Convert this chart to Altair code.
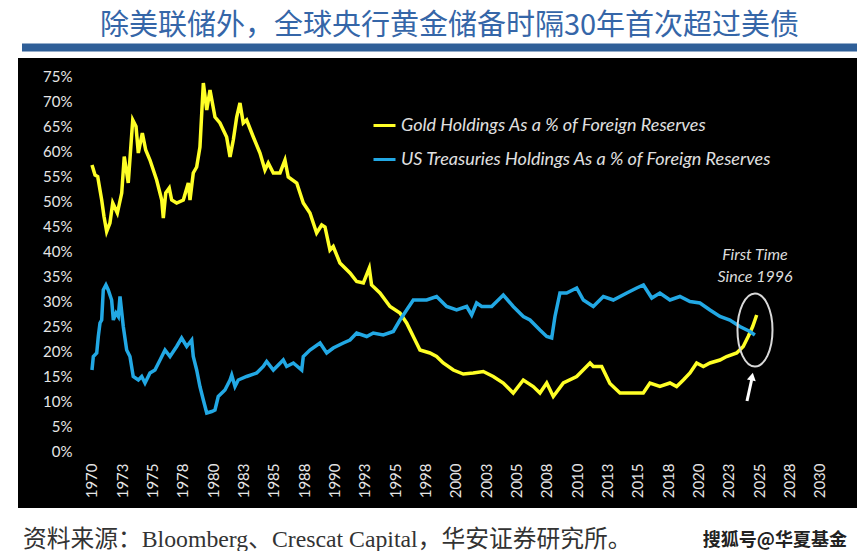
import altair as alt
import pandas as pd

# ---------------- data ----------------
gold_years = [1970.0, 1970.25, 1970.47, 1970.8, 1970.99, 1971.21, 1971.48, 1971.71, 1972.09, 1972.45,
              1972.66, 1972.99, 1973.36, 1973.63, 1973.82, 1974.15, 1974.43, 1974.78, 1975.33, 1975.75,
              1975.88, 1976.08, 1976.37, 1976.57, 1976.98, 1977.53, 1977.94, 1978.08, 1978.35, 1978.63,
              1978.9, 1979.18, 1979.46, 1979.73, 1980.14, 1980.55, 1981.1, 1981.38, 1981.65, 1981.93,
              1982.2, 1982.47, 1982.75, 1983.3, 1983.85, 1984.26, 1984.53, 1984.95, 1985.5, 1985.91,
              1986.18, 1986.88, 1987.42, 1987.97, 1988.52, 1988.94, 1989.21, 1989.62, 1989.89, 1990.44,
              1991.27, 1991.82, 1992.37, 1992.86, 1993.05, 1993.74, 1994.57, 1995.39, 1995.94, 1996.49,
              1997.04, 1997.86, 1998.41, 1998.96, 1999.79, 2000.61, 2001.43, 2002.26, 2003.08, 2003.91,
              2004.73, 2005.56, 2006.38, 2006.93, 2007.49, 2008.03, 2008.86, 2009.96, 2011.06, 2011.33,
              2012.02, 2012.7, 2013.53, 2014.63, 2015.45, 2016.0, 2016.82, 2017.65, 2018.2, 2018.75,
              2019.3, 2019.85, 2020.4, 2020.95, 2021.77, 2022.32, 2023.15, 2023.69, 2024.1, 2024.47,
              2024.8]
gold_values = [57.2, 55.2, 54.9, 50.2, 46.9, 43.9, 45.6, 49.6, 47.6, 51.6,
               58.9, 53.6, 66.2, 64.9, 59.6, 63.6, 60.2, 58.2, 54.2, 50.2,
               46.6, 51.6, 52.6, 50.2, 49.6, 50.2, 53.6, 50.2, 55.6, 56.8,
               60.8, 73.6, 68.2, 72.2, 66.8, 65.6, 62.8, 58.8, 62.2, 66.8,
               69.6, 65.6, 66.2, 62.8, 59.6, 56.2, 57.6, 55.6, 55.6, 58.2,
               54.8, 53.6, 49.6, 47.6, 43.6, 45.2, 44.8, 40.2, 40.9, 37.6,
               35.6, 33.9, 33.6, 36.6, 33.2, 31.6, 28.9, 27.6, 25.6, 22.9,
               20.2, 19.6, 18.9, 17.6, 16.2, 15.4, 15.6, 15.9, 14.9, 13.6,
               11.6, 14.2, 12.9, 11.6, 13.6, 10.9, 13.6, 14.9, 17.6, 16.9,
               16.9, 13.5, 11.6, 11.6, 11.6, 13.6, 12.9, 13.6, 12.9, 14.2,
               15.6, 17.6, 16.9, 17.6, 18.2, 18.9, 19.6, 20.9, 22.9, 24.9,
               27.2]

ust_years = [1970.0, 1970.11, 1970.39, 1970.52, 1970.66, 1970.8, 1970.93, 1971.15, 1971.34, 1971.62,
             1971.76, 1971.98, 1972.17, 1972.31, 1972.58, 1972.86, 1973.13, 1973.4, 1973.82, 1974.1,
             1974.37, 1974.78, 1975.19, 1975.61, 1976.02, 1976.43, 1976.98, 1977.39, 1977.81, 1978.22,
             1978.35, 1978.63, 1978.9, 1979.18, 1979.46, 1979.87, 1980.14, 1980.41, 1980.96, 1981.38,
             1981.52, 1981.79, 1982.06, 1982.75, 1983.58, 1984.12, 1984.4, 1984.95, 1985.77, 1986.05,
             1986.6, 1987.29, 1987.42, 1987.97, 1988.8, 1989.35, 1989.89, 1990.72, 1991.27, 1991.82,
             1992.65, 1993.19, 1994.01, 1994.84, 1995.39, 1995.94, 1996.49, 1997.59, 1998.41, 1999.24,
             2000.06, 2000.89, 2001.3, 2001.71, 2002.13, 2002.95, 2003.91, 2004.73, 2005.56, 2006.11,
             2006.93, 2007.49, 2007.9, 2008.17, 2008.58, 2009.13, 2009.96, 2010.51, 2011.33, 2012.16,
             2012.98, 2014.09, 2014.91, 2015.46, 2016.15, 2016.82, 2017.65, 2018.47, 2019.3, 2020.12,
             2020.95, 2021.77, 2022.59, 2023.41, 2024.24, 2024.65]
ust_values = [16.2, 18.9, 19.6, 22.9, 25.6, 26.2, 32.2, 33.2, 32.2, 30.2,
              26.2, 27.6, 26.9, 30.9, 24.9, 20.2, 18.9, 14.9, 14.2, 14.9,
              13.6, 15.6, 16.2, 18.2, 20.2, 18.9, 20.9, 22.6, 20.9, 22.2,
              18.9, 16.2, 12.9, 10.2, 7.6, 7.9, 8.2, 10.9, 12.2, 14.2,
              15.2, 12.9, 14.2, 14.9, 15.6, 16.9, 17.9, 16.2, 18.2, 16.9,
              17.6, 16.2, 18.9, 20.2, 21.6, 19.6, 20.6, 21.6, 22.2, 23.6,
              22.9, 23.6, 23.2, 23.9, 26.2, 28.2, 30.2, 30.2, 30.9, 28.9,
              28.2, 28.9, 27.2, 29.6, 28.9, 28.9, 31.2, 28.9, 26.9, 26.2,
              24.2, 22.9, 22.6, 26.9, 31.6, 31.6, 32.6, 30.2, 28.9, 30.9,
              30.2, 31.6, 32.6, 33.2, 30.6, 31.6, 30.2, 30.9, 29.9, 29.6,
              28.2, 26.9, 26.2, 24.9, 23.9, 23.2]

series_names = ["Gold Holdings As a % of Foreign Reserves",
                "US Treasuries Holdings As a % of Foreign Reserves"]
series_colors = ["#ffff26", "#22a8e4"]

x_tick_values = [1970 + 2.5 * i for i in range(25)]
y_tick_values = list(range(0, 80, 5))

title_text = "除美联储外，全球央行黄金储备时隔30年首次超过美债"
source_text = "资料来源：Bloomberg、Crescat Capital，华安证券研究所。"
watermark_text = "搜狐号@华夏基金"

note_lines = ["First Time", "Since 1996"]
note_years = [2024.66, 2024.66]
note_values = [39.2, 34.8]

ring_year = [2024.66]
ring_value = [24.2]

arrow_year, arrow_year2 = [2024.0], [2024.38]
arrow_value, arrow_value2 = [10.0], [14.2]
arrow_head_year, arrow_head_value = [2024.42], [14.9]

# ---------------- tables ----------------
lines_df = pd.concat([
    pd.DataFrame({"year": gold_years, "pct": gold_values, "series": series_names[0]}),
    pd.DataFrame({"year": ust_years, "pct": ust_values, "series": series_names[1]}),
], ignore_index=True)

notes_df = pd.DataFrame({"year": note_years, "pct": note_values, "label": note_lines})
ring_df = pd.DataFrame({"year": ring_year, "pct": ring_value})
arrow_df = pd.DataFrame({"year": arrow_year, "year2": arrow_year2,
                         "pct": arrow_value, "pct2": arrow_value2})
head_df = pd.DataFrame({"year": arrow_head_year, "pct": arrow_head_value})
source_df = pd.DataFrame({"t": [source_text]})
mark_df = pd.DataFrame({"t": [watermark_text]})
bar_df = pd.DataFrame({"k": [0]})

x_scale = alt.Scale(domain=[1963.9, 2033.07], nice=False, zero=False, padding=0)
y_scale = alt.Scale(domain=[-11.4, 78.6], nice=False, zero=False, padding=0)

label_font = "Lato"

x_axis = alt.Axis(
    values=x_tick_values, labelExpr="round(datum.value)", labelAngle=270,
    labelAlign="right", labelBaseline="middle", labelPadding=0, ticks=False,
    domain=False, grid=False, offset=-45, labelColor="#e6e6e6", labelFontSize=15,
    labelFont=label_font, title=None, labelOverlap=False)
y_axis = alt.Axis(
    values=y_tick_values, labelExpr="datum.value + '%'", labelPadding=0,
    ticks=False, domain=False, grid=False, offset=-54, labelColor="#e6e6e6",
    labelFontSize=15, labelFont=label_font, title=None, labelOverlap=False)


def xe():
    return alt.X("year:Q", scale=x_scale, axis=x_axis)


def ye():
    return alt.Y("pct:Q", scale=y_scale, axis=y_axis)


lines = alt.Chart(lines_df).mark_line(strokeWidth=3.5).encode(
    x=xe(), y=ye(),
    color=alt.Color("series:N",
                    scale=alt.Scale(domain=series_names, range=series_colors),
                    sort=series_names,
                    legend=alt.Legend(orient="none", legendX=354, legendY=55, title=None,
                                      labelColor="#e0e0e0", labelFontSize=18,
                                      labelFont=label_font, labelFontStyle="italic",
                                      symbolType="stroke", symbolStrokeWidth=3,
                                      symbolSize=484, rowPadding=12, labelLimit=700,
                                      padding=0, labelOffset=4)),
)

ellipse_path = "M0,-1 A0.48,1 0 1,1 0,1 A0.48,1 0 1,1 0,-1 Z"
ring = alt.Chart(ring_df).mark_point(shape=ellipse_path, size=5329, filled=False,
                                     color="#d9d9d9", strokeWidth=2, opacity=1).encode(
    x=xe(), y=ye())

notes = alt.Chart(notes_df).mark_text(font=label_font, fontStyle="italic", fontSize=16,
                                      color="#dcdcdc").encode(
    x=xe(), y=ye(), text="label:N")

arrow = alt.Chart(arrow_df).mark_rule(color="white", strokeWidth=3).encode(
    x=xe(), x2="year2:Q", y=ye(), y2="pct2:Q")
head = alt.Chart(head_df).mark_point(shape="triangle-up", filled=True, size=80,
                                     color="white", opacity=1, angle=11).encode(
    x=xe(), y=ye())

source = alt.Chart(source_df).mark_text(align="left", baseline="middle", fontSize=23.75,
                                        font="Liberation Serif, Noto Sans CJK SC",
                                        color="#333333").encode(
    x=alt.value(5), y=alt.value(482), text="t:N")
watermark = alt.Chart(mark_df).mark_text(align="right", baseline="middle", fontSize=18,
                                         fontWeight="bold", font="Noto Sans CJK SC",
                                         color="#222222").encode(
    x=alt.value(829), y=alt.value(483), text="t:N")
bar = alt.Chart(bar_df).mark_rule(color="#2f5f98", strokeWidth=8).encode(
    x=alt.value(4), x2=alt.value(839), y=alt.value(-10.5))

chart = alt.layer(lines, ring, notes, arrow, head, source, watermark, bar).properties(
    width=839, height=450,
    autosize=alt.AutoSizeParams(type="none"),
    padding={"left": 10, "top": 50, "right": 0, "bottom": 43},
    title=alt.TitleParams(text=title_text, fontSize=29, color="#3566a8",
                          font="Noto Sans CJK SC", fontWeight="normal",
                          anchor="middle", offset=3, dx=12),
).configure(background="white", view=alt.ViewConfig(fill="black", stroke=None))

chart.save("out.html", embed_options={"renderer": "svg", "actions": False})
